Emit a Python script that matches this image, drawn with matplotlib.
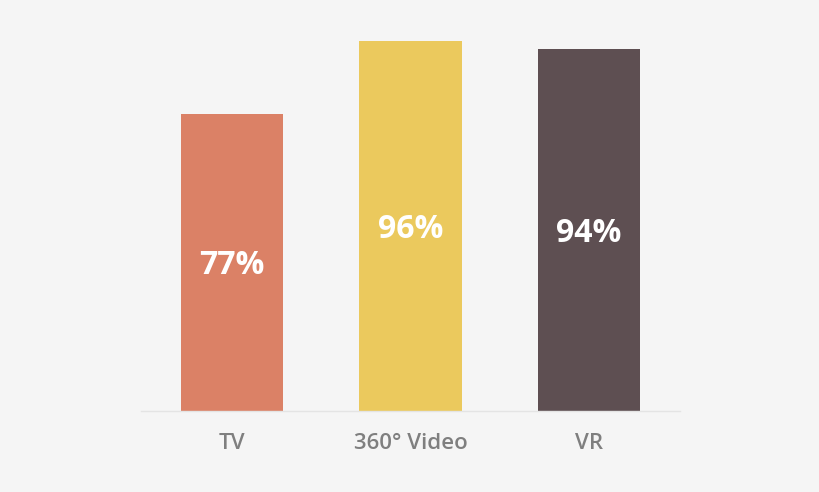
import matplotlib
matplotlib.use("Agg")
import matplotlib.pyplot as plt
from matplotlib.transforms import offset_copy

categories = ["TV", "360° Video", "VR"]
values = [77, 96, 94]
colors = ["#DB8166", "#EBC95D", "#5E4F52"]
value_labels = ["77%", "96%", "94%"]

W, H = 820, 492
fig = plt.figure(figsize=(W / 100, H / 100), dpi=100)
bg = "#F5F5F5"
fig.patch.set_facecolor(bg)

left_px, right_px = 141, 680
base_px, top_px = 410.5, 26
ax = fig.add_axes([left_px / W, (H - base_px) / H, (right_px - left_px) / W, (base_px - top_px) / H])
ax.set_facecolor(bg)

x = list(range(len(categories)))
bars = ax.bar(x, values, width=0.572, color=colors, zorder=2)
ax.set_xlim(-0.51, 2.51)
ax.set_ylim(0, 100)

tr = offset_copy(ax.transData, fig=fig, x=0, y=-3.5, units="dots")
for xi, v, lab in zip(x, values, value_labels):
    ax.text(xi, v / 2, lab, ha="center", va="center", color="white", transform=tr,
            fontsize=23, fontweight="bold", family=["Open Sans", "DejaVu Sans"], zorder=3)

for s in ["top", "right", "left"]:
    ax.spines[s].set_visible(False)
ax.spines["bottom"].set_color("#E4E4E4")
ax.spines["bottom"].set_linewidth(1.0)
ax.set_yticks([])
ax.set_xticks(x)
ax.set_xticklabels(categories, family=["Open Sans", "DejaVu Sans"], fontsize=16,
                   fontweight="semibold", color="#7F7F7F")
ax.tick_params(axis="x", length=0, pad=16)

fig.savefig("out.png", dpi=100, facecolor=bg)
